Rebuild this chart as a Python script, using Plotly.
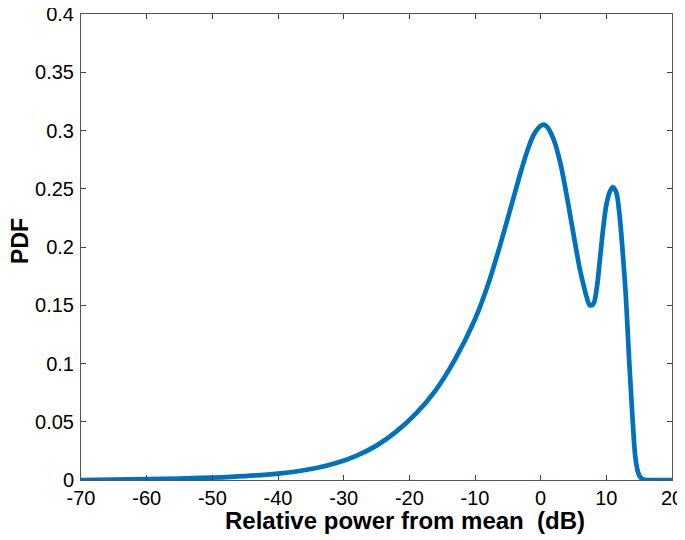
import plotly.graph_objects as go

power_db = [-70, -65, -60, -55, -50, -45, -40, -37, -34, -31, -28, -25, -22, -19, -16, -13, -10, -8, -6, -4, -3, -2, -1, 0, 0.5, 1, 2, 3, 4, 5, 6, 6.5, 7, 7.5, 8, 8.5, 9, 9.5, 10, 10.5, 11, 11.5, 12, 12.5, 13, 13.5, 14, 14.5, 15, 15.5, 16, 17, 20]
pdf_vals = [0, 0.0003, 0.0007, 0.0013, 0.0021, 0.0034, 0.0055, 0.0075, 0.0105, 0.0148, 0.021, 0.0295, 0.0415, 0.057, 0.077, 0.104, 0.138, 0.168, 0.205, 0.245, 0.265, 0.283, 0.297, 0.304, 0.305, 0.303, 0.292, 0.272, 0.243, 0.211, 0.180, 0.168, 0.157, 0.150, 0.151, 0.163, 0.188, 0.215, 0.236, 0.247, 0.2515, 0.247, 0.228, 0.195, 0.155, 0.100, 0.052, 0.016, 0.004, 0.0008, 0, 0, 0]

x_ticks = [-70, -60, -50, -40, -30, -20, -10, 0, 10, 20]
y_ticks = [0, 0.05, 0.1, 0.15, 0.2, 0.25, 0.3, 0.35, 0.4]
y_labels = ["0", "0.05", "0.1", "0.15", "0.2", "0.25", "0.3", "0.35", "0.4"]
x_title = "Relative power from mean\u00a0\u00a0(dB)"
y_title = "PDF"

FONT = "Liberation Sans, Arial, Helvetica, sans-serif"

fig = go.Figure()
fig.add_trace(go.Scatter(
    x=power_db, y=pdf_vals, mode="lines",
    line=dict(color="#0072BD", width=4.7, shape="spline", smoothing=1.0),
    showlegend=False, hoverinfo="skip",
))

axis_common = dict(
    showgrid=False, zeroline=False, showline=True, linecolor="#555555", linewidth=1,
    mirror="ticks", ticks="inside", ticklen=5, tickcolor="#404040", tickwidth=1,
    tickfont=dict(family=FONT, size=20, color="#000000"),
    automargin=False, ticklabeloverflow="allow",
)

fig.update_xaxes(range=[-70, 20], tickvals=x_ticks, ticktext=[str(v) for v in x_ticks], **axis_common)
fig.update_yaxes(range=[0, 0.4], tickvals=y_ticks, ticktext=y_labels, ticklabelstandoff=2, **axis_common)

# Axis titles as annotations so they sit where the reference puts them.
fig.add_annotation(
    text=f"<b>{x_title}</b>", xref="paper", yref="paper", x=0.548, y=0,
    xanchor="center", yanchor="middle", yshift=-40, showarrow=False,
    font=dict(family=FONT, size=24, color="#000000"),
)
fig.add_annotation(
    text=f"<b>{y_title}</b>", xref="paper", yref="paper", x=0, y=0.513,
    xanchor="center", yanchor="middle", xshift=-61, textangle=-90, showarrow=False,
    font=dict(family=FONT, size=23, color="#000000"),
)

# The page body has an 8px default margin, so the figure is sized to fit the window.
fig.update_layout(
    width=677, height=532,
    margin=dict(l=73, r=13, t=6, b=60, pad=0),
    paper_bgcolor="white", plot_bgcolor="white",
)

fig.write_html("out.html")
